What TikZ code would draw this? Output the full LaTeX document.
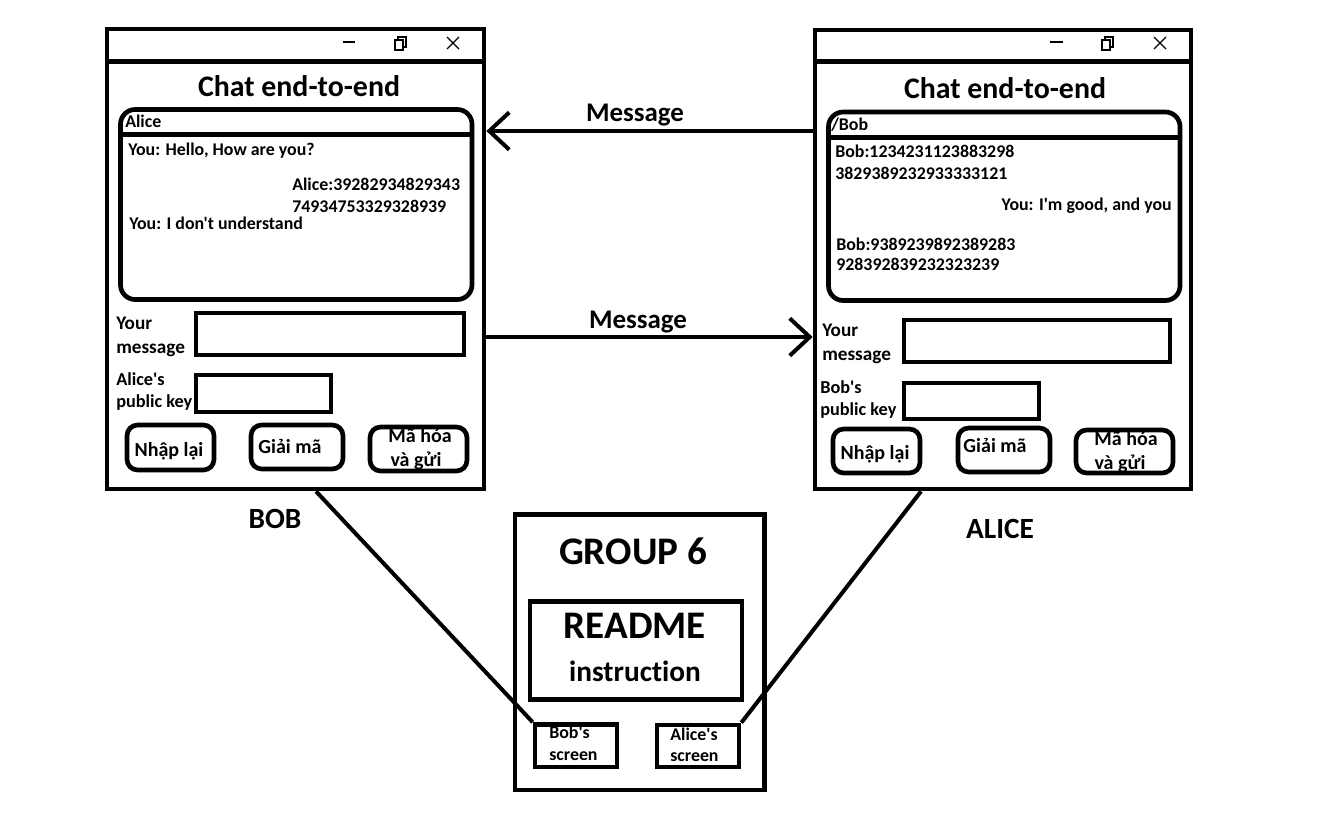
\documentclass[tikz,border=0pt]{standalone}
\usepackage{fontspec}
\setmainfont{Carlito}[Ligatures={TeXOff,CommonOff}]
\usetikzlibrary{arrows.meta,fit}
\newcommand\fTitle{\fontsize{22.4pt}{26pt}\selectfont\bfseries}
\newcommand\fChat{\fontsize{13.4pt}{16pt}\selectfont\bfseries}
\newcommand\fMsg{\fontsize{20.2pt}{24pt}\selectfont\bfseries}
\newcommand\fName{\fontsize{22pt}{26pt}\selectfont\bfseries}
\newcommand\fHuge{\fontsize{29.3pt}{34pt}\selectfont\bfseries}
\newcommand\fLbl{\fontsize{14.4pt}{17pt}\selectfont\bfseries}
\newcommand\fKey{\fontsize{13.7pt}{16pt}\selectfont\bfseries}
\newcommand\fBtn{\fontsize{15pt}{18pt}\selectfont\bfseries}
\tikzset{
  box/.style={draw, line width=3.5pt, inner sep=0pt},
  chatbox/.style={box, rounded corners=11pt},
  btn/.style={box, rounded corners=8pt},
  thin/.style={line width=0.9pt},
  sep/.style={line width=3.5pt},
  conn/.style={line width=3pt},
  msgarrow/.style={line width=3pt, -{Straight Barb[length=15pt,width=28pt]}},
  txt/.style={inner sep=0pt},
}
\begin{document}
\begin{tikzpicture}[x=0.75pt,y=-0.75pt]
\useasboundingbox (0,0) rectangle (1319,828);

% helper coordinates
\coordinate (ytb) at (0,61.5);
\coordinate (yh1) at (0,134.5);
\coordinate (yh2) at (0,137.5);
\coordinate (ym1) at (0,131);
\coordinate (ym2) at (0,337);
\coordinate (xb) at (316,0);
\coordinate (xa) at (921,0);

% ===== Bob's window (left) =====
\node[box, fit={(107,29)(484,489)}] (bobwin) {};
\draw[sep] (bobwin.west |- ytb) -- (bobwin.east |- ytb);
\draw[thin] (343,42) -- (355,42);
\draw[thin] (395,40) rectangle (403,50);
\draw[thin] (398,40) -- (398,37) -- (406,37) -- (406,47) -- (403,47);
\draw[thin] (447,37) -- (459,49) (447,49) -- (459,37);
\node[txt, anchor=base, font=\fTitle] (btitle) at (299,96.7) {Chat end-to-end};
\node[chatbox, fit={(120.5,109.5)(472,299.5)}] (bobchat) {};
\draw[sep] (bobchat.west |- yh1) -- (bobchat.east |- yh1);
\node[txt, anchor=base west, font=\fChat] (bh) at (125,127.7) {Alice};
\node[txt, anchor=base west, font=\fChat] (bc1) at (128,155) {You: Hello, How are you?};
\node[txt, anchor=base west, font=\fChat] (bc2) at (292,190.7) {Alice:39282934829343};
\node[txt, anchor=base west, font=\fChat] (bc3) at (292,212.7) {74934753329328939};
\node[txt, anchor=base west, font=\fChat] (bc4) at (129,229.3) {You: I don't understand};
\node[txt, anchor=base west, font=\fLbl] (bl1) at (116,329) {Your};
\node[txt, anchor=base west, font=\fLbl] (bl2) at (116,353) {message};
\node[box, fit={(196,313)(464,355)}] (bobmsg) {};
\node[txt, anchor=base west, font=\fKey] (bl3) at (116,385) {Alice's};
\node[txt, anchor=base west, font=\fKey] (bl4) at (116,407) {public key};
\node[box, fit={(196,375)(331,412)}] (bobkey) {};
\node[btn, fit={(127,425)(214,470)}] (bobb1) {};
\node[txt, anchor=base, font=\fBtn] (bb1) at (169,456.7) {Nhập lại};
\node[btn, fit={(251,425)(343,469)}] (bobb2) {};
\node[txt, anchor=base, font=\fBtn] (bb2) at (290,453.3) {Giải mã};
\node[txt, anchor=base, font=\fBtn] (bb3) at (420,442.7) {Mã hóa};
\node[txt, anchor=base, font=\fBtn] (bb4) at (416,466.7) {và gửi};
\node[btn, fit={(370,427)(467,471)}] (bobb3) {};

% ===== Alice's window (right) =====
\node[box, fit={(815,30)(1191,489)}] (alicewin) {};
\draw[sep] (alicewin.west |- ytb) -- (alicewin.east |- ytb);
\draw[thin] (1050,42) -- (1063,42);
\draw[thin] (1102,40) rectangle (1110,50);
\draw[thin] (1105,40) -- (1105,37) -- (1113,37) -- (1113,47) -- (1110,47);
\draw[thin] (1154,37) -- (1166,49) (1154,49) -- (1166,37);
\node[txt, anchor=base, font=\fTitle] (atitle) at (1005,98.3) {Chat end-to-end};
\node[chatbox, fit={(828.5,112)(1180,300.5)}] (alicechat) {};
\draw[sep] (alicechat.west |- yh2) -- (alicechat.east |- yh2);
\node[txt, anchor=base west, font=\fChat] (ah) at (831,130.7) {/Bob};
\node[txt, anchor=base west, font=\fChat] (ac1) at (835,157.3) {Bob:1234231123883298};
\node[txt, anchor=base west, font=\fChat] (ac2) at (835,179) {3829389232933333121};
\node[txt, anchor=base east, font=\fChat] (ac3) at (1172,210) {You: I'm good, and you};
\node[txt, anchor=base west, font=\fChat] (ac4) at (836,250) {Bob:9389239892389283};
\node[txt, anchor=base west, font=\fChat] (ac5) at (836,270.7) {928392839232323239};
\node[txt, anchor=base west, font=\fLbl] (al1) at (822,336) {Your};
\node[txt, anchor=base west, font=\fLbl] (al2) at (822,360) {message};
\node[box, fit={(904,320)(1170,362)}] (alicemsg) {};
\node[txt, anchor=base west, font=\fKey] (al3) at (820,393.3) {Bob's};
\node[txt, anchor=base west, font=\fKey] (al4) at (820,415) {public key};
\node[box, fit={(904,383)(1039,419)}] (alicekey) {};
\node[btn, fit={(833,429)(920,473)}] (aliceb1) {};
\node[txt, anchor=base, font=\fBtn] (ab1) at (875,459.3) {Nhập lại};
\node[btn, fit={(958,428)(1050,472)}] (aliceb2) {};
\node[txt, anchor=base, font=\fBtn] (ab2) at (995,452.7) {Giải mã};
\node[txt, anchor=base, font=\fBtn] (ab3) at (1126,445.7) {Mã hóa};
\node[txt, anchor=base, font=\fBtn] (ab4) at (1120,469.3) {và gửi};
\node[btn, fit={(1076,430)(1173,473)}] (aliceb3) {};

% ===== Message arrows =====
\draw[msgarrow] (alicewin.west |- ym1) -- (bobwin.east |- ym1);
\node[txt, anchor=base, font=\fMsg] (m1) at (635,121.5) {Message};
\draw[msgarrow] (bobwin.east |- ym2) -- (alicewin.west |- ym2);
\node[txt, anchor=base, font=\fMsg] (m2) at (638,328.5) {Message};

% ===== Names =====
\node[txt, anchor=base, font=\fName] (bobname) at (275,528.5) {BOB};
\node[txt, anchor=base, font=\fName] (alicename) at (1000,538) {ALICE};

% ===== Group box =====
\node[box, fit={(515,514.5)(764.5,790)}] (group) {};
\node[txt, anchor=base, font=\fHuge] (gt) at (633,564) {GROUP 6};
\node[box, fit={(530,601.5)(742,699.5)}] (readme) {};
\node[txt, anchor=base, font=\fHuge] (rt) at (635,638.3) {README};
\node[txt, anchor=base, font=\fName] (it) at (635,681.7) {instruction};
\node[box, fit={(535,724.5)(617,767)}] (bobscr) {};
\node[txt, anchor=base west, font=\fChat] (bs1) at (549,738.3) {Bob's};
\node[txt, anchor=base west, font=\fChat] (bs2) at (549,760.7) {screen};
\node[box, fit={(657,725)(739,767)}] (alicescr) {};
\node[txt, anchor=base west, font=\fChat] (as1) at (670,740) {Alice's};
\node[txt, anchor=base west, font=\fChat] (as2) at (670,761.7) {screen};

% ===== Connectors to screens =====
\draw[conn] (bobwin.south -| xb) -- (bobscr.north west);
\draw[conn] (alicewin.south -| xa) -- (alicescr.north east);
\end{tikzpicture}
\end{document}
